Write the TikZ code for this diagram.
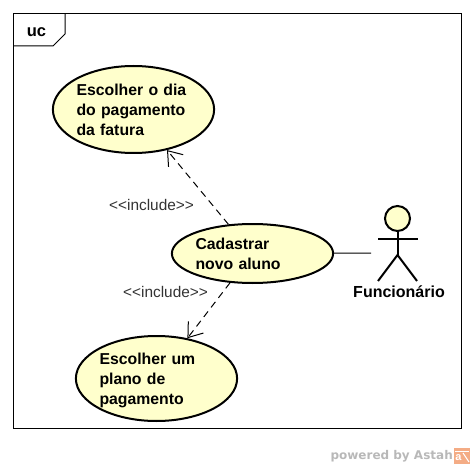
\documentclass[tikz,border=0pt]{standalone}
\usepackage{fontspec}
\setmainfont{Liberation Sans}
\newfontfamily\logofont{DejaVu Sans}
\usepackage{xcolor}
\usetikzlibrary{arrows.meta, positioning, shapes.geometric, calc}
\definecolor{ucfill}{HTML}{FFFFCC}
\definecolor{logoorange}{HTML}{F4AC85}
\newcommand{\ucline}[1]{\raisebox{-6pt}[0pt][0pt]{#1}}
\tikzset{
  usecase/.style={draw, ellipse, fill=ucfill, line width=2pt, inner sep=0pt, text width=114pt, align=left, minimum width=160pt, font=\fontsize{15.8}{20.4}\selectfont\bfseries},
  include/.style={dashed, dash pattern=on 7pt off 5pt, line width=1pt, -{Straight Barb[length=13pt,width=19pt,line width=1pt]}},
  stereo/.style={font=\fontsize{15.4}{16}\selectfont, text=black!80},
  limb/.style={line width=2pt}
}
\begin{document}
\begin{tikzpicture}[x=1pt, y=-1pt]
  \useasboundingbox (0,0) rectangle (474,468);
  \coordinate (frameTL) at (13.5,13.5);
  \coordinate (frameBR) at (461,428);
  \draw[line width=1pt] (frameTL) rectangle (frameBR);
  \draw[line width=1pt] (13.5,46) -- (53,46) -- (65,34) -- (65,13.5);
  \node[font=\fontsize{16.5}{18}\selectfont\bfseries] (uc) at (36.5,32) {uc};

  \node[usecase, minimum height=87pt] (dia) at (133.5,109.5) {\ucline{Escolher o dia}\\\ucline{do pagamento}\\\ucline{da fatura}};
  \node[usecase, minimum height=59pt] (cadastro) at (252.5,253.5) {\ucline{Cadastrar}\\\ucline{novo aluno}};
  \node[usecase, minimum height=85pt] (plano) at (156.5,378.5) {\ucline{Escolher um}\\\ucline{plano de}\\\ucline{pagamento}};

  \node[draw, circle, fill=ucfill, line width=2pt, minimum size=25pt, inner sep=0pt] (head) at (397.5,218.5) {};
  \coordinate (armL) at (378,239);
  \coordinate (armR) at (418,239);
  \coordinate (hip) at (397.5,255);
  \coordinate (footL) at (378,281);
  \coordinate (footR) at (417,281);
  \coordinate (hand) at (371,253);
  \draw[limb] (head) -- (hip);
  \draw[limb] (armL) -- (armR);
  \draw[limb] (footL) -- (hip) -- (footR);
  \node[font=\fontsize{16}{18}\selectfont\bfseries] (func) at (399,291.5) {Funcionário};

  \draw[include] (cadastro) -- (dia);
  \draw[include] (cadastro) -- (plano);
  \draw[line width=1pt] (cadastro) -- (hand);
  \node[stereo] (inc1) at (151.5,204.5) {<{}<include>{}>};
  \node[stereo] (inc2) at (165.5,291.5) {<{}<include>{}>};

  \node[font=\logofont\fontsize{12}{16}\selectfont\bfseries, text=black!28, anchor=east, inner sep=0pt] (powered) at (453,456) {powered by Astah};
  \node[fill=logoorange, minimum size=16pt, inner sep=0pt] (logo) at (462,455.5) {};
  \node[text=white, font=\fontsize{11}{11}\selectfont\bfseries, inner sep=0pt] (logoa) at (458.5,458) {a};
  \draw[white, line width=1pt] (455,451) -- (469,451);
  \draw[white, line width=1pt] (463,453) -- (469,462);
\end{tikzpicture}
\end{document}
